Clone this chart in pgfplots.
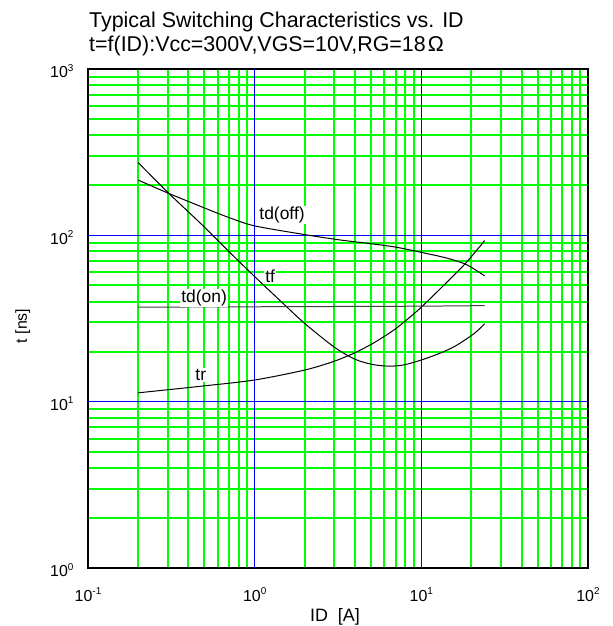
\documentclass[border=0pt]{standalone}
\usepackage{fontspec}
\setmainfont{Liberation Sans}
\usepackage{pgfplots}
\pgfplotsset{compat=1.18}
\definecolor{gridgreen}{RGB}{0,255,0}
\definecolor{gridblue}{RGB}{0,0,255}
\newcommand{\tp}[1]{10\raisebox{0.8ex}{\fontsize{10}{10}\selectfont #1}}
\begin{document}
\begin{tikzpicture}
\useasboundingbox (0,0) rectangle (613bp,626bp);
\node[anchor=base west, inner sep=0pt, font=\fontsize{21.5}{24}\selectfont] at (89bp,598.7bp) {Typical Switching Characteristics vs. ID};
\node[anchor=base west, inner sep=0pt, font=\fontsize{21.5}{24}\selectfont] at (89bp,574.3bp) {t=f(ID):Vcc=300V,VGS=10V,RG=18\kern2ptΩ};
\begin{axis}[
  at={(88bp,58bp)}, anchor=south west,
  scale only axis, width=500bp, height=499bp,
  xmode=log, ymode=log,
  xmin=0.1, xmax=100, ymin=1, ymax=1000,
  xtick={0.1,0.2,0.3,0.4,0.5,0.6,0.7,0.8,0.9,2,3,4,5,6,7,8,9,20,30,40,50,60,70,80,90,100},
  ytick={1,2,3,4,5,6,7,8,9,20,30,40,50,60,70,80,90,200,300,400,500,600,700,800,900,1000},
  xticklabels={\tp{-1},,,,,,,,,,,,,,,,,,,,,,,,,\tp{2}},
  yticklabels={\tp{0},,,,,,,,,,,,,,,,,,,,,,,,,\tp{3}},
  extra x ticks={1,10}, extra x tick labels={\tp{0},\tp{1}},
  extra y ticks={10,100}, extra y tick labels={\tp{1},\tp{2}},
  extra x tick style={grid=major, major grid style={gridblue, line width=1.6bp}},
  extra y tick style={grid=major, major grid style={gridblue, line width=1.6bp}},
  grid=major,
  major grid style={gridgreen, line width=2bp},
  axis line style={black, line width=1.5bp},
  major tick length=0pt, minor tick length=0pt,
  tick style={draw=none},
  xticklabel style={font=\fontsize{16}{16}\selectfont, yshift=-16pt},
  yticklabel style={font=\fontsize{16}{16}\selectfont, xshift=-11pt, yshift=-2pt},
  xlabel={ID\ \ [A]},
  ylabel={t [ns]},
  xlabel style={font=\fontsize{18}{18}\selectfont, at={(axis description cs:0.494,-0.098)}, anchor=center},
  ylabel style={font=\fontsize{16}{16}\selectfont, at={(axis description cs:-0.1306,0.485)}, anchor=center},
  clip=false,
]
% td(off)
\addplot[black, line width=1bp, smooth] coordinates {
(0.2,215) (0.3,180) (0.5,146) (0.7,128) (1,114) (2,101) (3.2,94) (5,89) (7,85) (10,79) (14.2,73) (18.7,66.6) (24,57)};
% tf
\addplot[black, line width=1bp, smooth] coordinates {
(0.2,274) (0.3,182) (0.5,112) (0.7,80) (1,56.5) (1.5,38.5) (2,29.5) (3,21.3) (4,18.0) (5,16.8) (6,16.4) (7,16.4) (8,16.7) (10,17.8) (13,19.6) (16,21.6) (20,25) (22,27) (24,29.4)};
% tr
\addplot[black, line width=1bp, smooth] coordinates {
(0.2,11.3) (0.5,12.45) (1,13.5) (2,15.5) (3,17.5) (4,19.7) (5,22.1) (6,24.7) (7,27.4) (8,30.5) (10,37) (14.9,54.7) (18.7,69) (24,93)};
% td(on)
\addplot[black!75, line width=1bp] coordinates {
(0.2,37) (1,37.2) (10,37.5) (24,37.8)};
\node[fill=white, inner sep=1pt, font=\fontsize{17.5}{17.5}\selectfont] at (axis cs:1.46,133) {td(off)};
\node[fill=white, inner sep=1pt, font=\fontsize{17.5}{17.5}\selectfont] at (axis cs:1.24,56.5) {tf};
\node[fill=white, inner sep=1pt, font=\fontsize{17.5}{17.5}\selectfont] at (axis cs:0.497,42.2) {td(on)};
\node[fill=white, inner sep=1pt, font=\fontsize{17.5}{17.5}\selectfont] at (axis cs:0.475,14.5) {tr};
\end{axis}
\end{tikzpicture}
\end{document}
